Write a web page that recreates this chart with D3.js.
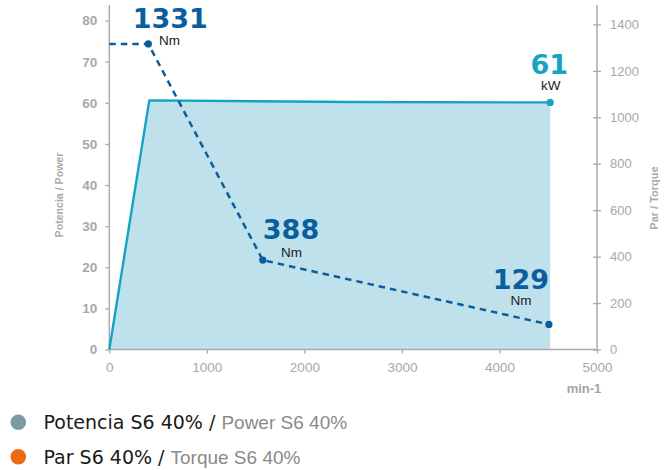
<!DOCTYPE html>
<html>
<head>
<meta charset="utf-8">
<script src="https://cdn.jsdelivr.net/npm/d3@7"></script>
<style>
  html, body { margin: 0; padding: 0; background: #fff; }
  svg { display: block; }
</style>
</head>
<body>
<script>
// ---- data ----
const rpmPower   = [0, 410, 2500, 4520];
const powerKW    = [0, 60.6, 60.2, 60.1];
const rpmTorque  = [0, 400, 1573, 4507];
const torqueNm   = [1316, 1316, 385, 108];
const torqueLabels = ["1331", "388", "129"];   // shown at points 1..3
const powerLabel = "61";
const xTicks = [0, 1000, 2000, 3000, 4000, 5000];
const leftTicks = [0, 10, 20, 30, 40, 50, 60, 70, 80];
const rightTicks = [0, 200, 400, 600, 800, 1000, 1200, 1400];
const legendMain = ["Potencia S6 40% /", "Par S6 40% /"];
const legendSub  = ["Power S6 40%", "Torque S6 40%"];

const W = 672, H = 470;
const svg = d3.select("body").append("svg").attr("width", W).attr("height", H);

const x  = d3.scaleLinear().domain([0, 5000]).range([109.3, 597]);
const yL = d3.scaleLinear().domain([0, 80]).range([349.5, 20.6]);
const yR = d3.scaleLinear().domain([0, 1400]).range([349.5, 24.4]);
const axisTop = 5;
const axisColor = "#ababab", tickText = "#a8a8a8";

// ---- power area + line ----
const pts = rpmPower.map((r, i) => [r, powerKW[i]]);
svg.append("path")
  .attr("d", d3.area().x(d => x(d[0])).y0(yL(0)).y1(d => yL(d[1]))(pts))
  .attr("fill", "#bfe1ec");

// ---- axes ----
const gB = svg.append("g").attr("transform", `translate(0,${yL(0)})`)
  .call(d3.axisBottom(x).tickValues(xTicks).tickSize(4).tickPadding(9).tickFormat(d3.format("d")));
gB.select(".domain").remove();
gB.selectAll("line").attr("stroke", axisColor).attr("stroke-width", 1.3);
gB.selectAll("text").attr("fill", tickText).style("font", "13.5px 'Liberation Sans', Arial, sans-serif");

const gL = svg.append("g").attr("transform", `translate(${x(0)},0)`)
  .call(d3.axisLeft(yL).tickValues(leftTicks).tickSize(4).tickPadding(8));
gL.select(".domain").remove();
gL.selectAll("line").attr("stroke", axisColor).attr("stroke-width", 1.3);
gL.selectAll("text").attr("fill", tickText).style("font", "bold 13.5px 'Liberation Sans', Arial, sans-serif");

const gR = svg.append("g").attr("transform", `translate(${x(5000)},0)`)
  .call(d3.axisRight(yR).tickValues(rightTicks).tickSize(4).tickPadding(9).tickFormat(d3.format("d")));
gR.select(".domain").remove();
gR.selectAll("line").attr("x1", -4).attr("stroke", axisColor).attr("stroke-width", 1.3);
gR.selectAll("text").attr("fill", tickText).style("font", "13px 'Liberation Sans', Arial, sans-serif");

// axis lines
svg.append("line").attr("x1", x(0)).attr("x2", x(0)).attr("y1", axisTop).attr("y2", yL(0))
  .attr("stroke", axisColor).attr("stroke-width", 1.5);
svg.append("line").attr("x1", x(5000)).attr("x2", x(5000)).attr("y1", axisTop).attr("y2", yL(0))
  .attr("stroke", axisColor).attr("stroke-width", 1.5);
svg.append("line").attr("x1", x(0)).attr("x2", x(5000)).attr("y1", yL(0)).attr("y2", yL(0))
  .attr("stroke", axisColor).attr("stroke-width", 1.5);

// power line (over axes)
svg.append("path")
  .attr("d", d3.line().x(d => x(d[0])).y(d => yL(d[1]))(pts))
  .attr("fill", "none").attr("stroke", "#14a4c2").attr("stroke-width", 2.4)
  .attr("stroke-linejoin", "round");

// axis titles
svg.append("text").attr("transform", "translate(63,195) rotate(-90)")
  .attr("text-anchor", "middle").attr("fill", "#aaaaaa")
  .style("font", "bold 10.6px 'Liberation Sans', Arial, sans-serif").text("Potencia / Power");
svg.append("text").attr("transform", "translate(658,198) rotate(-90)")
  .attr("text-anchor", "middle").attr("fill", "#aaaaaa")
  .style("font", "bold 11px 'Liberation Sans', Arial, sans-serif").text("Par / Torque");
svg.append("text").attr("x", 584).attr("y", 392.5)
  .attr("text-anchor", "middle").attr("fill", "#a5a5a5")
  .style("font", "bold 13px 'Liberation Sans', Arial, sans-serif").text("min-1");

// ---- torque dashed line ----
const tPts = rpmTorque.map((r, i) => [r, torqueNm[i]]);
const torqueColor = "#0b5e9d";
svg.append("path")
  .attr("d", d3.line().x(d => x(d[0])).y(d => yR(d[1]))(tPts))
  .attr("fill", "none").attr("stroke", torqueColor).attr("stroke-width", 2.5)
  .attr("stroke-dasharray", "6.5,5");
svg.selectAll("circle.t").data(tPts.slice(1)).enter().append("circle")
  .attr("cx", d => x(d[0])).attr("cy", d => yR(d[1])).attr("r", 3.6).attr("fill", torqueColor);

// power end dot
const pEnd = pts[pts.length - 1];
svg.append("circle").attr("cx", x(pEnd[0])).attr("cy", yL(pEnd[1])).attr("r", 3.6).attr("fill", "#14a4c2");

// ---- value labels ----
const bigFont = "bold 27px 'DejaVu Sans', sans-serif";
const unitFont = "13.5px 'Liberation Sans', Arial, sans-serif";
const tOff = [
  { dx: 22, dy: -15.6, ux: 10.7, uy: 1, ua: "start" },
  { dx: 28.3, dy: -20.8, ux: 28.8, uy: -3.1, ua: "middle" },
  { dx: -28, dy: -35.1, ux: -28, uy: -19.4, ua: "middle" }
];
tPts.slice(1).forEach((d, i) => {
  const cx = x(d[0]), cy = yR(d[1]), o = tOff[i];
  svg.append("text").attr("x", cx + o.dx).attr("y", cy + o.dy).attr("text-anchor", "middle")
    .attr("fill", torqueColor).style("font", bigFont).text(torqueLabels[i]);
  svg.append("text").attr("x", cx + o.ux).attr("y", cy + o.uy).attr("text-anchor", o.ua)
    .attr("fill", "#1a1a1a").style("font", unitFont).text("Nm");
});
{
  const cx = x(pEnd[0]), cy = yL(pEnd[1]);
  svg.append("text").attr("x", cx - 1).attr("y", cy - 28.4).attr("text-anchor", "middle")
    .attr("fill", "#14a4c2").style("font", bigFont).text(powerLabel);
  svg.append("text").attr("x", cx + 0.5).attr("y", cy - 12.4).attr("text-anchor", "middle")
    .attr("fill", "#1a1a1a").style("font", unitFont).text("kW");
}

// ---- legend ----
const legColors = ["#7a9ba4", "#ec6a10"];
const legY = [422.3, 456.7];
legendMain.forEach((m, i) => {
  svg.append("circle").attr("cx", 18.3).attr("cy", legY[i]).attr("r", 7.8).attr("fill", legColors[i]);
  const t = svg.append("text").attr("x", 43.5).attr("y", legY[i] + 7);
  t.append("tspan").attr("fill", "#1a1a1a").style("font", "19px 'DejaVu Sans', sans-serif").text(m + " ");
  t.append("tspan").attr("fill", "#8a8a8a").style("font", "19px 'Liberation Sans', Arial, sans-serif").text(legendSub[i]);
});
</script>
</body>
</html>
